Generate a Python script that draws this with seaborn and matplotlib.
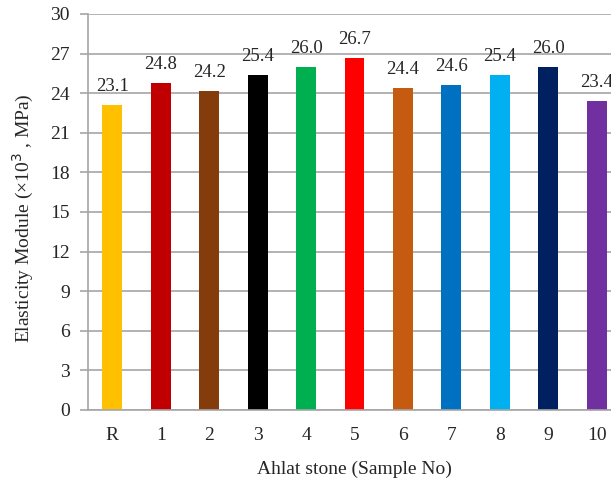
import matplotlib
matplotlib.use("Agg")
import matplotlib.pyplot as plt
import seaborn as sns
import pandas as pd

samples = ["R", "1", "2", "3", "4", "5", "6", "7", "8", "9", "10"]
values = [23.1, 24.8, 24.2, 25.4, 26.0, 26.7, 24.4, 24.6, 25.4, 26.0, 23.4]
colors = ["#FFC000", "#C00000", "#843C0C", "#000000", "#00B050", "#FF0000",
          "#C55A11", "#0070C0", "#00B0F0", "#002060", "#7030A0"]
yticks = [0, 3, 6, 9, 12, 15, 18, 21, 24, 27, 30]

sns.set_style("white")
plt.rcParams['font.family'] = ['Liberation Serif', 'DejaVu Serif']

df = pd.DataFrame({"Sample": samples, "Value": values})

fig = plt.figure(figsize=(6.11, 4.83), dpi=100)
ax = fig.add_axes([88/611, 1-410/483, (621-88)/611, (410-14)/483])

sns.barplot(data=df, x="Sample", y="Value", hue="Sample", palette=colors,
            legend=False, width=0.41, saturation=1, ax=ax, edgecolor="none")

ax.set_xlim(-0.5, 10.5)
ax.set_ylim(0, 30)
ax.set_yticks(yticks)
ax.yaxis.grid(True, color="#A6A6A6", linewidth=1.2)
ax.set_axisbelow(True)
for s in ["top", "right"]:
    ax.spines[s].set_visible(False)
for s in ["left", "bottom"]:
    ax.spines[s].set_color("#A6A6A6")
    ax.spines[s].set_linewidth(1.2)
ax.tick_params(axis="y", length=6, color="#A6A6A6", width=1.2, labelsize=14, pad=7, left=True, labelcolor="#262626")
ax.tick_params(axis="x", length=0, labelsize=14, pad=12, labelcolor="#262626")

for i, v in enumerate(values):
    ax.text(i, v + 0.75, f"{v:.1f}", ha="center", va="bottom", fontsize=13.5, color="#262626")

ax.set_xlabel("Ahlat stone (Sample No)", fontsize=14, labelpad=12, color="#262626")
ax.set_ylabel("Elasticity Module (×10$^3$ , MPa)", fontsize=14, labelpad=10, color="#262626")
ax.yaxis.label.set_y(0.485)

fig.savefig("out.png", dpi=100)
